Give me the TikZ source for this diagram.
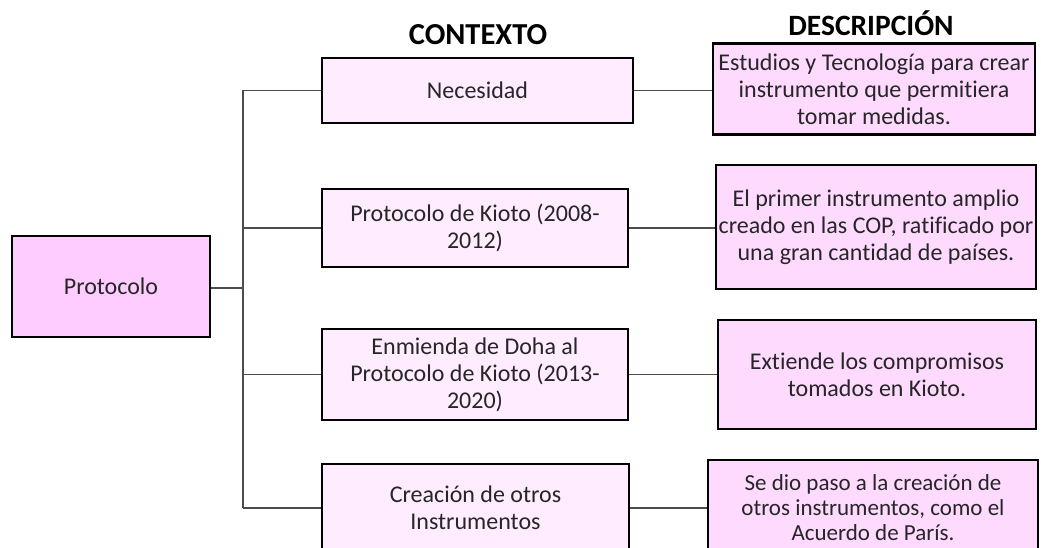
\documentclass[tikz,border=0pt]{standalone}
\usepackage{fontspec}
\setmainfont{Carlito}[Ligatures=NoCommon]
\usetikzlibrary{positioning}

\definecolor{protofill}{RGB}{255,204,255}
\definecolor{ctxfill}{RGB}{255,236,255}
\definecolor{descfill}{RGB}{255,218,255}

\tikzset{
  box/.style={draw=black, line width=2.6pt, align=center, inner sep=1pt,
    font=\fontsize{24}{27}\selectfont, text=black!85},
  ctxbox/.style={box, fill=ctxfill},
  descbox/.style={box, fill=descfill},
  title/.style={font=\fontsize{30.5}{32}\selectfont\bfseries, anchor=base},
  link/.style={draw=black!70, line width=1.4pt}
}

\begin{document}
\begin{tikzpicture}[x=1pt,y=-1pt]
\useasboundingbox (0,0) rectangle (1041,548);

\node [title] (ctxtitle) at (478,45) {CONTEXTO};
\node [title, font=\fontsize{29.5}{32}\selectfont\bfseries] (desctitle) at (871,36) {DESCRIPCIÓN};

\node [box, fill=protofill, minimum width=198pt, minimum height=101pt] (prot) at (111,286.5) {Protocolo};

% contexto
\node [ctxbox, minimum width=311pt, minimum height=65pt] (nec) at (477.5,90.5) {Necesidad};
\node [ctxbox, minimum width=306pt, minimum height=78pt] (kio) at (475,228) {Protocolo de Kioto (2008-\\2012)};
\node [ctxbox, minimum width=306pt, minimum height=91pt] (enm) at (475,374.5) {Enmienda de Doha al\\Protocolo de Kioto (2013-\\2020)};
\node [ctxbox, minimum width=307pt, minimum height=88pt] (cre) at (475.5,508) {Creación de otros\\Instrumentos};

% descripcion
\node [descbox, minimum width=322pt, minimum height=91pt] (dnec) at (874,89) {Estudios y Tecnología para crear\\instrumento que permitiera\\tomar medidas.};
\node [descbox, minimum width=320pt, minimum height=124pt] (dkio) at (876,227) {El primer instrumento amplio\\creado en las COP, ratificado por\\una gran cantidad de países.};
\node [descbox, minimum width=318pt, minimum height=109pt] (denm) at (877,374.5) {Extiende los compromisos\\tomados en Kioto.};
\node [descbox, minimum width=330pt, minimum height=96pt, font=\fontsize{23}{25}\selectfont] (dcre) at (873,508) {Se dio paso a la creación de\\otros instrumentos, como el\\Acuerdo de París.};

\coordinate (trunk) at (243,288);
\draw[link] (prot.east |- trunk) -- (trunk);
\draw[link] (trunk |- nec.west) -- (trunk |- cre.west);
\foreach \c/\d in {nec/dnec, kio/dkio, enm/denm, cre/dcre} {
  \draw[link] (trunk |- \c.west) -- (\c.west);
  \draw[link] (\c.east) -- (\c.east -| \d.west);
}

\end{tikzpicture}
\end{document}
